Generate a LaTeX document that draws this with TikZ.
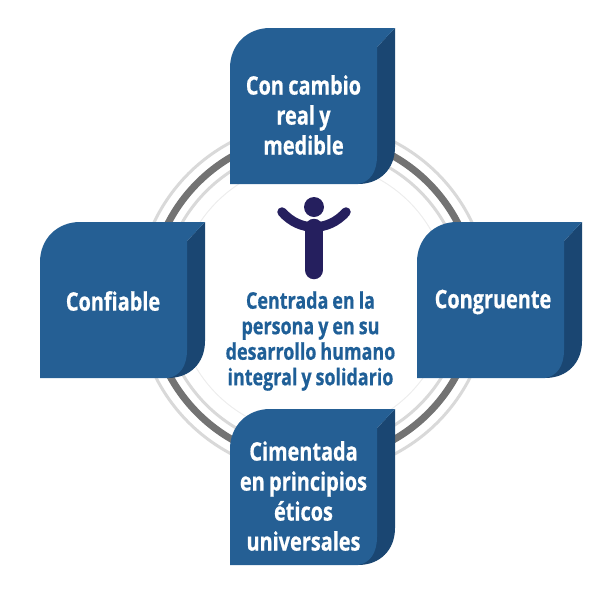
\documentclass[tikz,border=0pt]{standalone}
\usepackage{fontspec}
\setmainfont[FakeStretch=0.78,FakeBold=0.6,WordSpace=0.85]{Open Sans}
\definecolor{frontblue}{HTML}{255F94}
\definecolor{sideblue}{HTML}{1A4672}
\definecolor{midblue}{HTML}{1F5F97}
\definecolor{figblue}{HTML}{251F5E}
\tikzset{
  boxtext/.style={align=center,text=white,font=\fontsize{25.5}{30}\selectfont\bfseries},
  midtext/.style={align=center,text=midblue,font=\fontsize{23}{25.5}\selectfont\bfseries},
  cube/.pic={
    \fill[sideblue] (147,19) -- (165,0) -- (165,119)
        .. controls (165,141) and (150,156) .. (128,156) -- cycle;
    \fill[frontblue] (0,156) -- (0,40) .. controls (0,17) and (17,0) .. (40,0)
        -- (165,0) -- (147,19) -- (147,128)
        .. controls (147,144) and (140,154) .. (128,156) -- cycle;
  }
}
\begin{document}
\begin{tikzpicture}[x=1pt,y=-1pt]
\useasboundingbox (0,0) rectangle (616,590);

\coordinate (ctr) at (313,298);

% rings
\draw[black!7,line width=1pt] (ctr) circle (136pt);
\draw[black!15,line width=3pt] (ctr) circle (151pt);
\draw[black!55,line width=7pt] (ctr) circle (163pt);
\draw[black!15,line width=3pt] (ctr) circle (176pt);

% boxes
\foreach \px/\py in {230/28,40/222,417/222,230/409}
  \pic at (\px,\py) {cube};

\node[boxtext] (top) at (303.5,115) {Con cambio\\real y\\medible};
\node[boxtext] (left) at (113,301) {Confiable};
\node[boxtext] (right) at (493,302) {Congruente};
\node[boxtext] (bottom) at (303.5,496) {Cimentada\\en principios\\éticos\\universales};

% figure
\fill[figblue] (314,207) circle (10pt);
\draw[figblue,line width=9.5pt,line cap=round] (282,212)
    .. controls (291,222) and (302,227) .. (314,227)
    .. controls (326,227) and (337,222) .. (346,212);
\draw[figblue,line width=18.5pt,line cap=round] (314,228) -- (314,270);

\node[midtext] (mid) at (310.5,341) {Centrada en la\\persona y en su\\desarrollo humano\\integral y solidario};

\end{tikzpicture}
\end{document}
